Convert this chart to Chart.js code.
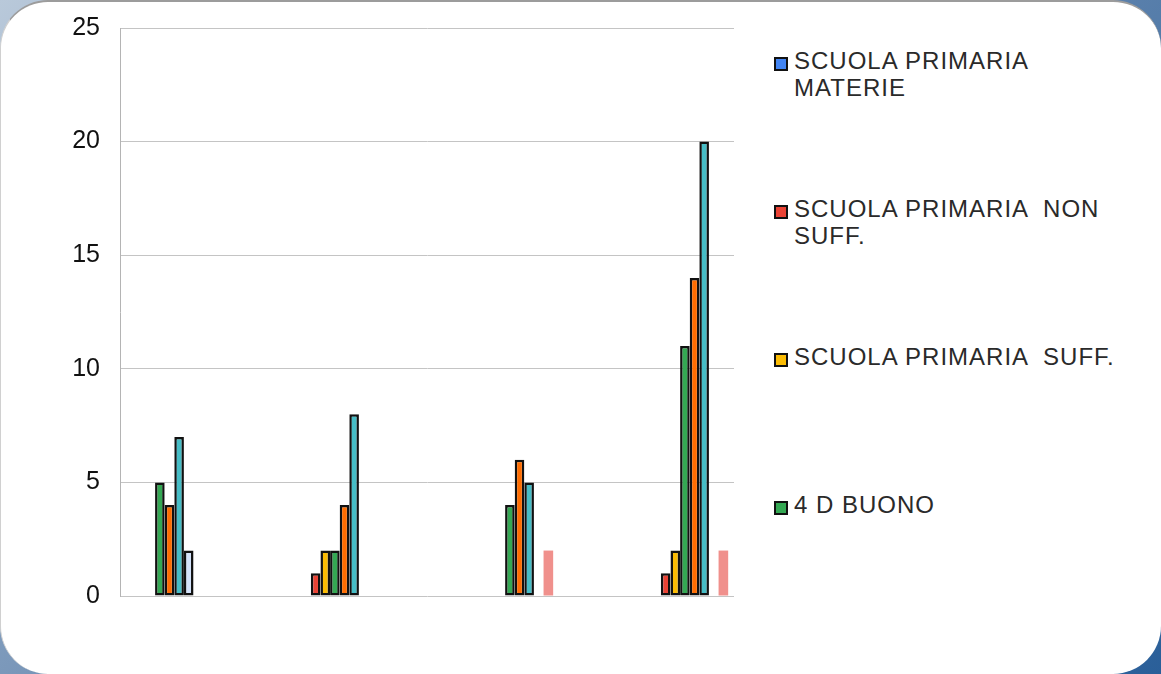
<!DOCTYPE html>
<html>
<head>
<meta charset="utf-8">
<script src="https://cdn.jsdelivr.net/npm/chart.js@4"></script>
<style>
    html, body {margin: 0; padding: 0;}
    body {
        width: 1161px; height: 674px; overflow: hidden;
        background: linear-gradient(135deg, #b9c9da 0%, #6d8db3 45%, #2a5f99 100%);
        font-family: "Liberation Sans", Arial, sans-serif;
    }
    .panel {
        position: absolute; left: 0; top: 0; width: 1161px; height: 674px;
        box-sizing: border-box;
        background: #fff;
        border-top: 2px solid #9c9c9c;
        border-left: 1px solid #d0d0d0;
        border-radius: 48px;
    }
    .chart-box {position: absolute; left: 0; top: -9px; width: 760px; height: 674px;}
    .legend {position: absolute; left: 773px; top: 0;}
    .legend-item {position: absolute; left: 0; width: 380px;}
    .legend-item .box {
        position: absolute; left: 0; top: 10px; width: 10px; height: 10px;
        border: 2px solid #111;
    }
    .legend-item .txt {
        position: absolute; left: 20px; top: 0; width: 335px;
        font-size: 24px; line-height: 27px; letter-spacing: 1px;
        color: #2a2a2a; white-space: pre-wrap;
    }
</style>
</head>
<body>
<div class="panel">
    <div class="chart-box"><canvas id="chart"></canvas></div>
    <div class="legend" id="legend"></div>
</div>
<script>
// data
const categories = ['1', '2', '3', '4'];
const seriesNames = [
    'SCUOLA PRIMARIA MATERIE',
    'SCUOLA PRIMARIA  NON SUFF.',
    'SCUOLA PRIMARIA  SUFF.',
    '4 D BUONO',
    '4 D DISTINTO',
    '4 D OTTIMO',
    'SCUOLA SECONDARIA',
    'ALTRO'
];
const materie = [0, 0, 0, 0];
const nonSuff = [0, 1, 0, 1];
const suff = [0, 2, 0, 2];
const buono = [5, 2, 4, 11];
const distinto = [4, 4, 6, 14];
const ottimo = [7, 8, 5, 20];
const secondaria = [2, 0, 0, 0];
const altro = [0, 0, 2, 2];
const yTicks = [0, 5, 10, 15, 20, 25];

const seriesValues = [materie, nonSuff, suff, buono, distinto, ottimo, secondaria, altro];
const colors = ['#4285f4', '#ea4335', '#fbbc04', '#34a853', '#ff6d01', '#46bdc6', '#d4e3fb', '#f0908c'];
const borders = [2.5, 2.5, 2.5, 2.5, 2.5, 2.5, 2.5, 0];

const datasets = seriesValues.map((vals, index) => ({
    label: seriesNames[index],
    data: vals.map((v, i) => ({x: i, y: v})),
    backgroundColor: colors[index],
    borderColor: '#111',
    borderWidth: borders[index],
    borderSkipped: false,
    categoryPercentage: 0.4395,
    barPercentage: 1.0
}));

const ctx = document.getElementById('chart');
new Chart(ctx, {
    type: 'bar',
    data: {datasets},
    options: {
        responsive: true,
        maintainAspectRatio: false,
        animation: false,
        layout: {padding: {top: 20, bottom: 71, right: 27, left: 0}},
        scales: {
            x: {
                type: 'linear',
                display: false,
                offset: false,
                grid: {offset: false},
                min: -0.2553,
                max: 3.253,
                ticks: {stepSize: 1, includeBounds: false}
            },
            y: {
                min: 0,
                max: 25,
                afterFit: (scale) => { scale.width = 119; },
                ticks: {
                    stepSize: 5,
                    padding: 20,
                    color: '#111',
                    font: {family: '"Liberation Sans", Arial, sans-serif', size: 25},
                    callback: (v) => yTicks.includes(v) ? v : ''
                },
                grid: {color: '#c4c4c4', lineWidth: 1, drawTicks: false},
                border: {display: true, color: '#b4b4b4', width: 1}
            }
        },
        plugins: {
            legend: {display: false},
            tooltip: {enabled: false}
        }
    }
});

// legend (only the first four entries are visible in the original)
const legendTops = [45, 193, 341, 489];
const legend = document.getElementById('legend');
legendTops.forEach((top, index) => {
    const item = document.createElement('div');
    item.className = 'legend-item';
    item.style.top = top + 'px';
    item.innerHTML = '<div class="box" style="background:' + colors[index] + '"></div>' +
        '<div class="txt"></div>';
    item.querySelector('.txt').textContent = seriesNames[index];
    legend.appendChild(item);
});
</script>
</body>
</html>
